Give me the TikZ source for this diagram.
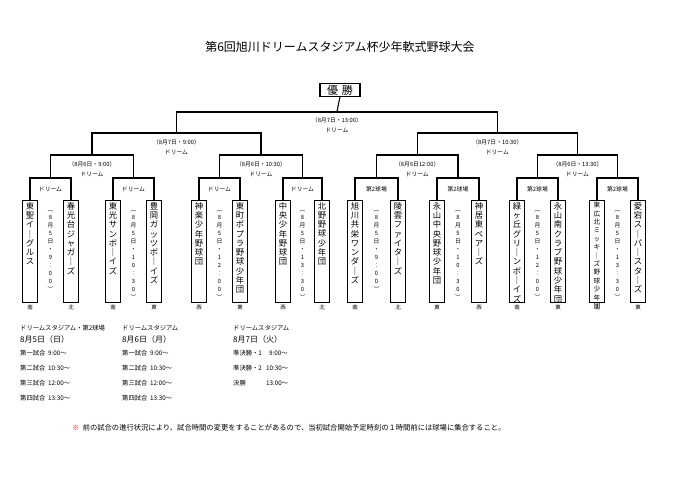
\documentclass[tikz,border=0pt]{standalone}
\usepackage{fontspec}
\setmainfont{Noto Sans CJK JP}
\def\vt#1{\vtB#1\vtend}
\def\vtB#1{#1\vtC}
\def\vtC#1{\ifx#1\vtend\else\\#1\expandafter\vtC\fi}
\def\vtx#1{\edef\vtmp{#1}\expandafter\vt\expandafter{\vtmp}}
\tikzset{
 ln/.style={line width=1.1pt},
 tbox/.style={draw,line width=1.2pt,minimum width=15pt,minimum height=102pt,anchor=north,inner sep=0pt},
 tname/.style={anchor=north,align=center,inner sep=0pt,font=\fontsize{8.3}{9.3}\selectfont},
 dname/.style={anchor=north,align=center,inner sep=0pt,font=\fontsize{5.8}{8}\selectfont},
 sm/.style={inner sep=0pt,font=\fontsize{5.8}{7}\selectfont},
 reg/.style={inner sep=0pt,font=\fontsize{5.5}{6}\selectfont},
 sch/.style={anchor=west,inner sep=0pt,font=\fontsize{6.3}{7}\selectfont},
}
\begin{document}
\begin{tikzpicture}[x=1pt,y=-1pt]
\useasboundingbox (0,0) rectangle (680,481);
\node[font=\fontsize{12}{13}\selectfont] (title) at (340,47) {第6回旭川ドリームスタジアム杯少年軟式野球大会};
\node[draw,line width=1.1pt,font=\fontsize{11}{12}\selectfont,inner sep=1pt,minimum width=40pt] (win) at (340,90) {優\,\,勝};
% teams
\foreach \i/\x/\t/\r in {1/30/東聖イ｜グルス/南,2/71/春光台ジャガ｜ズ/北,3/113/東光サンボ｜イズ/南,4/154/豊岡ガッツボ｜イズ/東,5/199/神楽少年野球団/西,6/240/東町ポプラ野球少年団/東,7/283/中央少年野球団/西,8/322/北野野球少年団/北,9/355/旭川共栄ワンダ｜ズ/南,10/398/陵雲ファイタ｜ズ/北,11/437/永山中央野球少年団/東,12/479/神居東ベア｜ズ/西,13/517/緑ヶ丘グリ｜ンボ｜イズ/南,14/558/永山南クラブ野球少年団/東,16/638/愛宕ス｜パ｜スタ｜ズ/東}{
 \node[tbox] (t\i) at (\x,200) {};
 \node[tname] (n\i) at ([yshift=-2pt]t\i.north) {\vtx{\t}};
 \node[reg] (r\i) at ([yshift=-4.5pt]t\i.south) {\r};
}
\node[tbox] (t15) at (597,200) {};
\node[tname,font=\fontsize{6.6}{8.4}\selectfont] (n15) at ([yshift=-2pt]t15.north) {\vt{東広北ミッキ｜ズ野球少年団}};
\node[reg] (r15) at ([yshift=-4.5pt]t15.south) {北};
% first-round dates and labels
\foreach \p/\a/\b/\tm/\lab in {1/1/2/9︰00/ドリーム,2/3/4/10︰30/ドリーム,3/5/6/12︰00/ドリーム,4/7/8/13︰30/ドリーム,5/9/10/9︰00/第2球場,6/11/12/10︰30/第2球場,7/13/14/12︰00/第2球場,8/15/16/13︰30/第2球場}{
 \path (t\a.north) -- (t\b.north) coordinate[pos=0.5] (m\p);
 \coordinate (p\p) at ([yshift=22pt]m\p);
 \draw[ln] (t\a.north) |- (p\p) -| (t\b.north);
 \node[dname] (d\p) at ([yshift=-10pt]m\p) {\vtx{︵8月5日・\tm︶}};
 \node[sm] (l\p) at ([yshift=-11pt]p\p) {\lab};
}
% quarterfinals
\foreach \q/\a/\b/\tx in {1/1/2/（8月6日・9:00）,2/3/4/（8月6日・10:30）,3/5/6/（8月6日12:00）,4/7/8/（8月6日・13:30）}{
 \path (p\a) -- (p\b) coordinate[pos=0.5] (mq\q);
 \coordinate (q\q) at ([yshift=23pt]mq\q);
 \draw[ln] (p\a) |- (q\q) -| (p\b);
 \node[sm] (qd\q) at ([yshift=-9pt]q\q) {\tx};
 \node[sm] (ql\q) at ([yshift=-19pt]q\q) {ドリーム};
}
% semifinals
\foreach \s/\a/\b/\tx in {1/1/2/（8月7日・9:00）,2/3/4/（8月7日・10:30）}{
 \path (q\a) -- (q\b) coordinate[pos=0.5] (ms\s);
 \coordinate (s\s) at ([yshift=22pt]ms\s);
 \draw[ln] (q\a) |- (s\s) -| (q\b);
 \node[sm] (sd\s) at ([yshift=-9pt]s\s) {\tx};
 \node[sm] (sl\s) at ([yshift=-19pt]s\s) {ドリーム};
}
\path (s1) -- (s2) coordinate[pos=0.5] (mf);
\coordinate (f) at ([yshift=21pt]mf);
\draw[ln] (s1) |- (f) -| (s2);
\draw[ln] (f) -- (win.south);
\node[sm] (fd) at ([yshift=-8pt]f) {（8月7日・13:00）};
\node[sm] (fl) at ([yshift=-18pt]f) {ドリーム};
% schedule
\node[sch] (h1) at (20,328) {ドリームスタジアム・第2球場};
\node[sch] (h2) at (122,328) {ドリームスタジアム};
\node[sch] (h3) at (233,328) {ドリームスタジアム};
\node[sch,font=\fontsize{8}{9}\selectfont] (e1) at (20,339) {8月5日（日）};
\node[sch,font=\fontsize{8}{9}\selectfont] (e2) at (122,339) {8月6日（月）};
\node[sch,font=\fontsize{8}{9}\selectfont] (e3) at (233,339) {8月7日（火）};
\foreach \c/\x in {1/20,2/122}{
 \node[sch] (a\c) at (\x,353) {第一試合\ \ 9:00〜};
 \node[sch] (b\c) at (\x,368) {第二試合\ \ 10:30〜};
 \node[sch] (c\c) at (\x,383) {第三試合\ \ 12:00〜};
 \node[sch] (g\c) at (\x,398) {第四試合\ \ 13:30〜};
}
\node[sch] (a3) at (233,353) {準決勝・1};
\node[sch] (a3t) at (269,353) {9:00〜};
\node[sch] (b3) at (233,368) {準決勝・2};
\node[sch] (b3t) at (266,368) {10:30〜};
\node[sch] (c3) at (233,383) {決勝};
\node[sch] (c3t) at (266,383) {13:00〜};
\node[sch,font=\fontsize{7.3}{8}\selectfont] (note) at (72,428) {\textcolor{red}{※}\ \ 前の試合の進行状況により、試合時間の変更をすることがあるので、当初試合開始予定時刻の１時間前には球場に集合すること。};
\end{tikzpicture}
\end{document}
